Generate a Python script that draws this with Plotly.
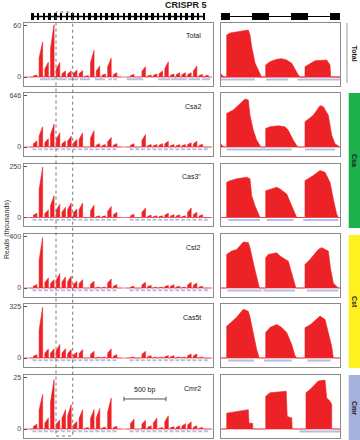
import plotly.graph_objects as go

# ---------------- data ----------------
SAMPLES = ["Total", "Csa2", "Cas3\"", "Cst2", "Cas5t", "Cmr2"]
Y_MAX = [60, 646, 250, 400, 325, 25]
Y_MAX_LABEL = ["60", "646", "250", "400", "325", "25"]

# CRISPR 5 spacer indices (positions along the array, ~68 bp per repeat-spacer unit)
SPACER_IDX = [0, 1, 2, 3, 4, 5, 6, 7, 8, 9, 10, 11, 12, 13, 14,
              17, 18, 19, 20, 21, 22, 23, 24, 25, 26, 27, 28, 29, 30]
UNIT_BP = 68
FIRST_SPACER_BP = 140
REPEAT_IDX = list(range(31))
FIRST_REPEAT_BP = 101

PEAKS = {
    "Total": [2.3, 40.7, 17.3, 61, 17, 7, 7, 8, 7.3, 1.5, 31, 12.7, 3.5, 22, 5,
              3, 0, 12, 2.3, 3.5, 7, 17.7, 3.5, 5, 5, 5, 12.7, 3, 2],
    "Csa2": [76, 253, 105, 287, 177, 76, 135, 93, 177, 0, 203, 42, 30, 118, 42,
             42, 0, 156, 30, 30, 42, 72, 30, 30, 30, 55, 72, 34, 0],
    "Cas3\"": [21, 245, 36, 106, 65, 49, 70, 41, 70, 0, 60, 8, 8, 54, 25,
               16, 0, 46, 11, 8, 8, 21, 13, 13, 8, 46, 25, 13, 0],
    "Cst2": [26, 392, 78, 65, 112, 86, 91, 52, 65, 0, 52, 6, 6, 70, 26,
             13, 0, 44, 20, 6, 6, 20, 26, 13, 6, 44, 39, 13, 0],
    "Cas5t": [21, 320, 57, 57, 85, 59, 53, 36, 53, 0, 42, 5, 5, 57, 21,
              6, 0, 42, 15, 5, 5, 15, 15, 6, 5, 25, 25, 6, 0],
    "Cmr2": [2.3, 16.8, 5.3, 24, 4.4, 9.4, 11.8, 3.6, 9.4, 0.7, 9.4, 9.9, 0.8, 15, 1.3,
             4.8, 0, 4.3, 1.6, 5.3, 0.7, 6.4, 1.1, 1.5, 2.6, 3.5, 1.6, 0.7, 0],
}

# annotated (light blue) segments under the Total track, bp
TOTAL_ANNOT = [(196, 315), (324, 375), (395, 514), (533, 652), (673, 792), (851, 970),
               (1010, 1050), (1069, 1110), (1229, 1426), (1605, 1744), (1752, 1943),
               (1962, 2101), (2121, 2220)]
BASELINE_SEGMENTS = [(77, 1169), (1229, 2229)]
ZOOM_REGION_BP = (387, 586)
SCALE_BAR_BP = (1196, 1696)

# right-hand (zoomed) coverage profiles: position and coverage
RIGHT_X = {
    "Total": [0, 0, 23, 33, 60, 60, 93, 193, 243, 276, 293, 310, 343, 376, 400, 408,
              450, 450, 493, 560, 610, 660, 710, 743, 776, 793,
              843, 843, 893, 943, 1060, 1093, 1100, 1193],
    "Csa2": [0, 0, 23, 33, 60, 60, 126, 210, 243, 276, 293, 326, 360, 393, 400,
             450, 450, 493, 576, 643, 676, 726, 760, 770,
             843, 843, 926, 993, 1026, 1076, 1110, 1143, 1176, 1185, 1193],
    "Cas3\"": [0, 60, 60, 93, 160, 260, 293, 310, 343, 376, 393,
               450, 450, 560, 593, 660, 710, 743, 760,
               843, 843, 926, 993, 1043, 1093, 1126, 1160, 1176, 1193],
    "Cst2": [0, 60, 60, 110, 160, 226, 276, 293, 326, 360, 386, 395,
             450, 450, 476, 560, 593, 676, 710, 743, 752,
             843, 843, 893, 976, 1010, 1076, 1100, 1126, 1176, 1193],
    "Cas5t": [0, 60, 60, 110, 160, 226, 276, 293, 326, 360, 386,
              450, 450, 493, 560, 610, 660, 710, 743, 760,
              843, 843, 900, 950, 993, 1043, 1110, 1126, 1135, 1193],
    "Cmr2": [0, 60, 60, 276, 283, 320, 320, 450, 450, 493, 655, 665, 710, 715,
             853, 853, 893, 976, 1043, 1060, 1093, 1110, 1110, 1193],
}
RIGHT_Y = {
    "Total": [0, 4, 1, 0, 0, 49, 51.3, 52.9, 54.3, 54.8, 49, 35.4, 16.3, 8.2, 2.3, 0,
              0, 14, 17.9, 20.6, 21.4, 19.8, 16, 8.2, 2.3, 0,
              0, 12, 16, 19, 19.8, 14, 0, 0],
    "Csa2": [0, 40, 10, 0, 0, 422, 464, 570, 603, 590, 400, 210, 84, 20, 0,
             0, 232, 253, 266, 253, 210, 84, 20, 0,
             0, 317, 400, 519, 507, 400, 147, 42, 13, 0, 0],
    "Cas3\"": [0, 0, 171, 179, 188, 196, 188, 106, 57, 16, 0,
               0, 130, 147, 139, 114, 57, 16, 0,
               0, 179, 204, 228, 220, 171, 90, 16, 0, 0],
    "Cst2": [0, 0, 261, 287, 300, 357, 353, 314, 196, 78, 2, 0,
             0, 235, 261, 274, 248, 208, 118, 26, 0,
             0, 183, 222, 300, 314, 287, 143, 39, 0, 0],
    "Cas5t": [0, 0, 200, 231, 257, 308, 295, 257, 148, 53, 0,
              0, 161, 193, 212, 193, 161, 85, 15, 0,
              0, 191, 212, 244, 265, 244, 74, 2, 0, 0],
    "Cmr2": [0, 0, 7.7, 9.4, 2.8, 2.8, 0, 0, 15.9, 17.6, 18.4, 6.1, 5.4, 0,
             0, 17.6, 19.2, 23.3, 23.8, 15.1, 13.5, 12, 0, 0],
}
RIGHT_ANNOT = {
    "Total": [(0, 343), (453, 676), (766, 1193)],
    "Csa2": [(60, 710), (843, 1143)],
    "Cas3\"": [(76, 393), (460, 726), (826, 1176)],
    "Cst2": [(66, 410), (426, 743), (860, 1176)],
    "Cas5t": [(76, 333), (433, 710), (866, 1100)],
    "Cmr2": [(786, 1193)],
}
RIGHT_GENES = [(0, 93), (313, 483), (703, 873), (1093, 1193)]

GROUPS = ["Total", "Csa", "Cst", "Cmr"]
GROUP_COLORS = [None, "#1DB14B", "#FFF01F", "#A6B1DC"]

# ---------------- layout helpers ----------------
W, H = 360, 440
ROW_TOP = [23, 93, 163.5, 234, 304, 375]
ROW_H = 62.5
LEFT_X = (23.5, 212.5)
RIGHT_XPX = (220.7, 340)
LEFT_RANGE = [0, 2250]
RIGHT_RANGE = [0, 1193]

RED = "#EC2227"
PINK = "#F4A3A3"
LBLUE = "#B3BEE6"
FONT = "Liberation Sans, Arial, sans-serif"
BOX = "#8a8a8a"


def py(px):
    return 1 - px / H


def pxx(px):
    return px / W


fig = go.Figure()
layout = dict(width=W, height=H, margin=dict(l=0, r=0, t=0, b=0),
              paper_bgcolor="white", plot_bgcolor="white", showlegend=False,
              font=dict(family=FONT, size=7, color="#333"))
shapes = []
annotations = []

for r, name in enumerate(SAMPLES):
    mx = Y_MAX[r]
    yr = [-0.165 * mx, 1.05 * mx]
    ydom = [py(ROW_TOP[r] + ROW_H), py(ROW_TOP[r])]
    nl, nr = r + 1, r + 7
    common_x = dict(showticklabels=False, ticks="", showline=True, mirror=True,
                    linecolor=BOX, linewidth=1, zeroline=False, showgrid=False,
                    fixedrange=True)
    layout[f"xaxis{nl}"] = dict(common_x, domain=[pxx(LEFT_X[0]), pxx(LEFT_X[1])],
                                range=LEFT_RANGE, anchor=f"y{nl}")
    layout[f"yaxis{nl}"] = dict(domain=ydom, range=yr, anchor=f"x{nl}", showline=True,
                                mirror=True, linecolor=BOX, linewidth=1, zeroline=False,
                                showgrid=False, tickvals=[0, mx],
                                ticktext=["0", Y_MAX_LABEL[r]], ticks="inside",
                                ticklen=3, tickcolor="#555", tickwidth=1,
                                tickfont=dict(size=7, color="#444"), fixedrange=True)
    layout[f"xaxis{nr}"] = dict(common_x, domain=[pxx(RIGHT_XPX[0]), pxx(RIGHT_XPX[1])],
                                range=RIGHT_RANGE, anchor=f"y{nr}")
    layout[f"yaxis{nr}"] = dict(domain=ydom, range=yr, anchor=f"x{nr}", showline=True,
                                mirror=True, linecolor=BOX, linewidth=1, zeroline=False,
                                showgrid=False, showticklabels=False, ticks="",
                                fixedrange=True)

    # ---- left coverage peaks
    xs, ys = [LEFT_RANGE[0]], [0]
    for idx, h in zip(SPACER_IDX, PEAKS[name]):
        if h <= 0:
            continue
        c = FIRST_SPACER_BP + UNIT_BP * idx
        xs += [c - 22, c - 22, c + 14, c + 20, c + 20]
        ys += [0, 0.55 * h, h, h, 0]
    xs.append(LEFT_RANGE[1])
    ys.append(0)
    # baseline
    bx, by = [], []
    for a, b in BASELINE_SEGMENTS:
        bx += [a, b, None]
        by += [0, 0, None]
    fig.add_trace(go.Scatter(x=bx, y=by, mode="lines", line=dict(color=PINK, width=1),
                             xaxis=f"x{nl}", yaxis=f"y{nl}", hoverinfo="skip"))
    fig.add_trace(go.Scatter(x=xs, y=ys, mode="lines", fill="tozeroy", fillcolor=RED,
                             line=dict(color=RED, width=0.6), xaxis=f"x{nl}",
                             yaxis=f"y{nl}", hoverinfo="skip"))
    # annotated segments under the track
    if name == "Total":
        segs = TOTAL_ANNOT
    else:
        segs = [(FIRST_SPACER_BP + UNIT_BP * i - 32, FIRST_SPACER_BP + UNIT_BP * i + 14)
                for i in SPACER_IDX]
    ax, ay = [], []
    yb = -0.045 * mx
    for a, b in segs:
        ax += [a, b, None]
        ay += [yb, yb, None]
    fig.add_trace(go.Scatter(x=ax, y=ay, mode="lines", line=dict(color=LBLUE, width=2),
                             xaxis=f"x{nl}", yaxis=f"y{nl}", hoverinfo="skip"))

    # ---- right coverage
    fig.add_trace(go.Scatter(x=RIGHT_RANGE, y=[0, 0], mode="lines",
                             line=dict(color=RED if r == 0 else "#F07A7A",
                                       width=1.2 if r == 0 else 1),
                             xaxis=f"x{nr}", yaxis=f"y{nr}", hoverinfo="skip"))
    fig.add_trace(go.Scatter(x=RIGHT_X[name], y=RIGHT_Y[name], mode="lines",
                             fill="tozeroy", fillcolor=RED,
                             line=dict(color=RED, width=0.6), xaxis=f"x{nr}",
                             yaxis=f"y{nr}", hoverinfo="skip"))
    rx, ry = [], []
    for a, b in RIGHT_ANNOT[name]:
        rx += [a, b, None]
        ry += [yb * 1.1, yb * 1.1, None]
    fig.add_trace(go.Scatter(x=rx, y=ry, mode="lines", line=dict(color=LBLUE, width=2),
                             xaxis=f"x{nr}", yaxis=f"y{nr}", hoverinfo="skip"))

    # sample label
    annotations.append(dict(text=name, x=pxx(203), y=py(ROW_TOP[r] + 13), xref="paper",
                            yref="paper", xanchor="right", yanchor="middle",
                            showarrow=False, font=dict(size=7, color="#1a1a1a")))

# ---- gene tracks
gdom = [py(22), py(11)]
for n, dom, rng in [(13, LEFT_X, LEFT_RANGE), (14, RIGHT_XPX, RIGHT_RANGE)]:
    layout[f"xaxis{n}"] = dict(domain=[pxx(dom[0]), pxx(dom[1])], range=rng, visible=False,
                               anchor=f"y{n}", fixedrange=True)
    layout[f"yaxis{n}"] = dict(domain=gdom, range=[-1, 1], visible=False,
                               anchor=f"x{n}", fixedrange=True)
rep_bp = [FIRST_REPEAT_BP + UNIT_BP * k for k in REPEAT_IDX]
fig.add_trace(go.Scatter(x=[rep_bp[0], rep_bp[-1]], y=[0, 0], mode="lines",
                         line=dict(color="black", width=1.6), xaxis="x13", yaxis="y13",
                         hoverinfo="skip"))
fig.add_trace(go.Bar(x=rep_bp, y=[1.3] * len(rep_bp), base=-0.65, width=30,
                     marker=dict(color="black", line=dict(width=0)), xaxis="x13",
                     yaxis="y13", hoverinfo="skip"))
fig.add_trace(go.Scatter(x=RIGHT_RANGE, y=[0, 0], mode="lines",
                         line=dict(color="black", width=1), xaxis="x14", yaxis="y14",
                         hoverinfo="skip"))
fig.add_trace(go.Bar(x=[(a + b) / 2 for a, b in RIGHT_GENES],
                     y=[1.1] * len(RIGHT_GENES), base=-0.55,
                     width=[b - a for a, b in RIGHT_GENES],
                     marker=dict(color="black", line=dict(width=0)), xaxis="x14",
                     yaxis="y14", hoverinfo="skip"))

# ---- zoom region (dotted box)
shapes.append(dict(type="rect", xref="x", yref="paper", x0=ZOOM_REGION_BP[0],
                   x1=ZOOM_REGION_BP[1], y0=py(436), y1=py(12),
                   line=dict(color="#666", width=0.9, dash="dot"), layer="above"))

# ---- scale bar on Cmr2 panel
sb_y = 14.6
shapes.append(dict(type="line", xref="x6", yref="y6", x0=SCALE_BAR_BP[0], x1=SCALE_BAR_BP[1],
                   y0=sb_y, y1=sb_y, line=dict(color="#555", width=1)))
for xv in SCALE_BAR_BP:
    shapes.append(dict(type="line", xref="x6", yref="y6", x0=xv, x1=xv, y0=sb_y - 1.1,
                       y1=sb_y + 1.1, line=dict(color="#555", width=1)))
annotations.append(dict(text="500 bp", x=sum(SCALE_BAR_BP) / 2, y=sb_y + 1.6, xref="x6",
                        yref="y6", yanchor="bottom", showarrow=False,
                        font=dict(size=7, color="#1a1a1a")))

# ---- group side bars
group_spans = [(23, 83), (93, 228), (235, 368), (375, 440)]
for g, (t, b), col in zip(GROUPS, group_spans, GROUP_COLORS):
    if col is None:
        shapes.append(dict(type="line", xref="paper", yref="paper", x0=pxx(347), x1=pxx(347),
                           y0=py(b), y1=py(t), line=dict(color="#999", width=1)))
    else:
        shapes.append(dict(type="rect", xref="paper", yref="paper", x0=pxx(348.7), x1=1,
                           y0=py(b), y1=py(t), fillcolor=col, line=dict(width=0)))
    annotations.append(dict(text=f"<b>{g}</b>", x=pxx(354.5), y=py((t + b) / 2),
                            xref="paper", yref="paper", textangle=90, showarrow=False,
                            xanchor="center", yanchor="middle",
                            font=dict(size=7, color="#1a1a1a")))

# ---- titles
annotations.append(dict(text="<b>CRISPR 5</b>", x=pxx(186), y=py(4.5), xref="paper",
                        yref="paper", showarrow=False, xanchor="center", yanchor="middle",
                        font=dict(size=9, color="#1a1a1a")))
annotations.append(dict(text="Reads (thousands)", x=pxx(7), y=py(230), xref="paper",
                        yref="paper", textangle=-90, showarrow=False, xanchor="center",
                        yanchor="middle", font=dict(size=7, color="#333")))

layout["shapes"] = shapes
layout["annotations"] = annotations
layout["bargap"] = 0
fig.update_layout(**layout)
fig.write_html("out.html")
